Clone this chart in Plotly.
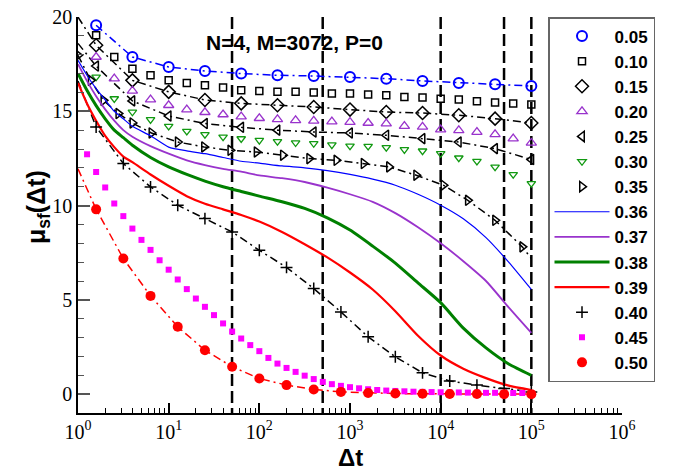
import plotly.graph_objects as go

# ---------------- data ----------------
# exponents (log10 of Δt) of sampled points
exp_a = [0.2, 0.6, 1.0, 1.4, 1.8, 2.2, 2.6, 3.0, 3.4, 3.8, 4.2, 4.6, 5.0]            # every 0.4 decade
exp_b = [0.2, 0.4, 0.6, 0.8, 1.0, 1.2, 1.4, 1.6, 1.8, 2.0, 2.2, 2.4, 2.6, 2.8, 3.0,
         3.2, 3.4, 3.6, 3.8, 4.0, 4.2, 4.4, 4.6, 4.8, 5.0]                           # every 0.2 decade
exp_c = [0.2, 0.5, 0.8, 1.1, 1.4, 1.7, 2.0, 2.3, 2.6, 2.9, 3.2, 3.5, 3.8, 4.1, 4.4, 4.7, 5.0]  # every 0.3 decade
exp_d = [0.1, 0.2, 0.3, 0.4, 0.5, 0.6, 0.7, 0.8, 0.9, 1.0, 1.1, 1.2, 1.3, 1.4, 1.5, 1.6, 1.7,
         1.8, 1.9, 2.0, 2.1, 2.2, 2.3, 2.4, 2.5, 2.6, 2.7, 2.8, 2.9, 3.0, 3.1, 3.2, 3.3, 3.4,
         3.5, 3.6, 3.7, 3.8, 3.9, 4.0, 4.1, 4.2, 4.3, 4.4, 4.5, 4.6, 4.7, 4.8, 4.9, 5.0]
exp_e = [0.0, 0.14, 0.28, 0.445, 0.6, 0.81, 1.1, 1.39, 1.68, 1.97, 2.26, 2.55, 2.85,
         3.15, 3.43, 3.73, 4.03, 4.30, 4.60, 4.90]
exp_s = [0.0, 0.1, 0.2, 0.3, 0.4, 0.5, 0.6, 0.8, 1.0, 1.2, 1.4, 1.6, 1.8, 2.0, 2.25,
         2.5, 2.75, 3.0, 3.25, 3.5, 3.75, 4.0, 4.25, 4.5, 4.75, 5.0]

mu_005 = [19.56, 17.88, 17.35, 17.14, 17.0, 16.91, 16.87, 16.82, 16.73, 16.61, 16.50, 16.43, 16.34]
mu_010 = [19.03, 17.88, 17.26, 16.91, 16.64, 16.50, 16.38, 16.26, 16.11, 16.08, 16.03, 16.03, 15.99,
          15.94, 15.94, 15.89, 15.85, 15.76, 15.73, 15.67, 15.62, 15.53, 15.46, 15.41, 15.36]
mu_015 = [18.5, 16.64, 16.03, 15.6, 15.42, 15.32, 15.23, 15.09, 14.96, 14.91, 14.79, 14.61, 14.38]
mu_020 = [17.88, 16.73, 16.08, 15.62, 15.32, 15.09, 14.95, 14.83, 14.72, 14.63, 14.57, 14.52, 14.49,
          14.45, 14.43, 14.38, 14.35, 14.21, 14.17, 14.03, 13.99, 13.90, 13.78, 13.55, 13.32]
mu_025 = [17.4, 15.55, 14.75, 14.35, 14.15, 14.0, 13.9, 13.85, 13.73, 13.55, 13.37, 13.02, 12.44]
mu_030 = [16.82, 15.67, 14.96, 14.56, 14.21, 13.94, 13.77, 13.64, 13.55, 13.46, 13.40, 13.33, 13.29,
          13.22, 13.16, 13.15, 13.08, 12.97, 12.90, 12.76, 12.53, 12.35, 12.05, 11.65, 11.17]
mu_035 = [17.97, 16.64, 15.58, 14.88, 14.38, 13.85, 13.37, 13.11, 12.93, 12.84, 12.67, 12.49, 12.40,
          12.23, 12.05, 11.61, 11.08, 10.28, 9.22, 7.81]
mu_035_end = 7.19
mu_036 = [17.7, 16.9, 16.2, 15.6, 15.0, 14.6, 14.2, 13.7, 13.1, 12.9, 12.75, 12.55, 12.35, 12.25,
          12.1, 12.0, 11.85, 11.65, 11.4, 11.08, 10.6, 10.02, 9.3, 8.3, 7.0, 5.55]
mu_037 = [17.5, 16.6, 15.8, 15.1, 14.5, 14.0, 13.65, 13.15, 12.75, 12.4, 12.15, 11.95, 11.8, 11.6,
          11.45, 11.25, 10.95, 10.6, 10.2, 9.6, 8.85, 8.0, 7.05, 6.0, 4.6, 3.25]
mu_038 = [17.0, 16.1, 15.3, 14.6, 14.0, 13.6, 13.2, 12.55, 12.05, 11.65, 11.3, 11.0, 10.75, 10.5,
          10.2, 9.85, 9.35, 8.7, 7.85, 6.95, 5.9, 4.85, 3.5, 2.45, 1.6, 1.0]
mu_039 = [16.5, 15.4, 14.5, 13.7, 13.1, 12.6, 12.3, 11.65, 11.05, 10.5, 10.1, 9.8, 9.5, 9.15, 8.6,
          7.95, 7.25, 6.45, 5.55, 4.4, 3.1, 2.05, 1.35, 0.85, 0.45, 0.22]
mu_040 = [14.17, 12.23, 10.99, 10.02, 9.31, 8.60, 7.63, 6.72, 5.60, 4.36, 3.04, 1.98, 1.13, 0.70,
          0.48, 0.30, 0.12]
mu_045 = [12.72, 11.78, 10.96, 10.11, 9.44, 8.78, 8.18, 7.65, 7.1, 6.6, 6.08, 5.57, 5.07, 4.63, 4.19,
          3.75, 3.32, 2.95, 2.6, 2.28, 1.92, 1.62, 1.39, 1.18, 0.98, 0.8, 0.65, 0.53, 0.44, 0.37,
          0.31, 0.26, 0.22, 0.19, 0.17, 0.15, 0.13, 0.12, 0.11, 0.10, 0.09, 0.09, 0.08, 0.08, 0.07,
          0.07, 0.07, 0.06, 0.06, 0.06]
mu_050 = [9.8, 7.19, 5.21, 3.57, 2.33, 1.45, 0.83, 0.48, 0.25, 0.12, 0.06, 0.03, 0.02, 0.01, 0.01,
          0.0, 0.0]
mu_050_start = 11.95
mu_040_start = 16.6
mu_025_start = 18.6
mu_015_start = 20.0

vlines = [50, 500, 1e4, 5e4, 1e5]
x_tickvals = [1, 10, 100, 1000, 10000, 100000, 1000000]
x_ticktext = ["10<sup>0</sup>", "10<sup>1</sup>", "10<sup>2</sup>", "10<sup>3</sup>",
              "10<sup>4</sup>", "10<sup>5</sup>", "10<sup>6</sup>"]
y_tickvals = [0, 5, 10, 15, 20]
title_text = "N=4, M=3072, P=0"


def X(exps):
    return [10 ** e for e in exps]


fig = go.Figure()
DD = "8px,4px,2px,4px"


def line(x, y, color, width=1.5, dash=DD):
    fig.add_trace(go.Scatter(x=x, y=y, mode="lines", showlegend=False, hoverinfo="skip",
                             line=dict(color=color, width=width, dash=dash)))


def mark(x, y, name, symbol, color, size, lw=1.5):
    fig.add_trace(go.Scatter(x=x, y=y, mode="markers", name="<b>" + name + "</b>",
                             marker=dict(symbol=symbol, size=size, color=color,
                                         line=dict(color=color, width=lw))))


def smooth(x, y, name, color, width):
    fig.add_trace(go.Scatter(x=x, y=y, mode="lines", name="<b>" + name + "</b>",
                             line=dict(color=color, width=width, shape="spline", smoothing=0.6)))


# vertical dashed lines
for v in vlines:
    fig.add_trace(go.Scatter(x=[v, v], y=[20, -1], mode="lines", showlegend=False, hoverinfo="skip",
                             line=dict(color="black", width=2.5, dash="12px,5px")))

# dash-dot connecting lines
line(X(exp_a), mu_005, "blue")
line([1] + X(exp_a), [mu_015_start] + mu_015, "black")
line([1] + X(exp_a), [mu_025_start] + mu_025, "black")
line(X(exp_e) + [1e5], mu_035 + [mu_035_end], "black")
line([1] + X(exp_c), [mu_040_start] + mu_040, "black")
line([1] + X(exp_c), [mu_050_start] + mu_050, "red")

# markers / legend entries
mark(X(exp_a), mu_005, "0.05", "circle-open", "blue", 10, 2)
mark(X(exp_b), mu_010, "0.10", "square-open", "black", 7, 1.5)
mark(X(exp_a), mu_015, "0.15", "diamond-open", "black", 10, 1.5)
mark(X(exp_b), mu_020, "0.20", "triangle-up-open", "#9933cc", 9, 1.3)
mark(X(exp_a), mu_025, "0.25", "triangle-left-open", "black", 9, 1.5)
mark(X(exp_b), mu_030, "0.30", "triangle-down-open", "#119911", 7.5, 1.3)
mark(X(exp_e), mu_035, "0.35", "triangle-right-open", "black", 9, 1.5)

smooth(X(exp_s), mu_036, "0.36", "blue", 1.2)
smooth(X(exp_s), mu_037, "0.37", "#9933cc", 1.8)
smooth(X(exp_s), mu_038, "0.38", "green", 3)
smooth(X(exp_s), mu_039, "0.39", "red", 2.2)

mark(X(exp_c), mu_040, "0.40", "cross-thin-open", "black", 8.5, 1.5)
mark(X(exp_d), mu_045, "0.45", "square", "magenta", 6, 0)
mark(X(exp_c), mu_050, "0.50", "circle", "red", 10, 0)

# title inside plot
fig.add_annotation(x=(294 - 78) / 544, y=1 - (43 - 17) / 396, xref="paper", yref="paper",
                   xanchor="center", yanchor="middle",
                   text="<b>" + title_text + "</b>", showarrow=False,
                   font=dict(family="Liberation Sans", size=21, color="black"))
# axis titles
fig.add_annotation(x=0.5, y=-(457 - 413) / 396, xref="paper", yref="paper", text="<b>Δt</b>",
                   xanchor="center", yanchor="middle",
                   showarrow=False, font=dict(family="Liberation Sans", size=24, color="black"))
fig.add_annotation(x=-(78 - 38) / 544, y=1 - (207 - 17) / 396, xref="paper", yref="paper",
                   text="<b>μ<sub>sf</sub>(Δt)</b>", textangle=-90,
                   xanchor="center", yanchor="middle",
                   showarrow=False, font=dict(family="Liberation Sans", size=25, color="black"))

fig.update_layout(
    width=682, height=470,
    margin=dict(l=78, r=60, t=17, b=57, autoexpand=False),
    paper_bgcolor="white", plot_bgcolor="white",
    font=dict(family="Liberation Sans", color="black"),
    showlegend=True,
    legend=dict(x=(548 - 78) / 544, y=1, xanchor="left", yanchor="top", bgcolor="white",
                bordercolor="#666666", borderwidth=1.5,
                font=dict(family="Liberation Sans", size=17, color="black"),
                itemwidth=55),
)

minor_x = [m * 10 ** k for k in range(6) for m in range(2, 10)]
fig.update_xaxes(type="log", range=[0, 6], showgrid=False, zeroline=False,
                 showline=True, linecolor="black", linewidth=1.5,
                 tickmode="array", tickvals=x_tickvals, ticktext=x_ticktext,
                 ticks="inside", ticklen=10, tickwidth=1.5, tickcolor="black",
                 tickfont=dict(family="Liberation Serif", size=20, color="black"),
                 minor=dict(tickmode="array", tickvals=minor_x, ticks="inside", ticklen=5,
                            tickwidth=1, tickcolor="black", showgrid=False))
fig.update_yaxes(range=[-1, 20], showgrid=False, zeroline=False,
                 showline=True, linecolor="black", linewidth=1.5,
                 tickmode="array", tickvals=y_tickvals,
                 ticks="inside", ticklen=12, tickwidth=1.5, tickcolor="#555555",
                 tickfont=dict(family="Liberation Serif", size=20, color="black"),
                 minor=dict(dtick=1, ticks="inside", ticklen=6, tickwidth=1,
                            tickcolor="#555555", showgrid=False))

fig.write_html("out.html", config={"displayModeBar": False},
               post_script="document.body.style.margin='0px';")
